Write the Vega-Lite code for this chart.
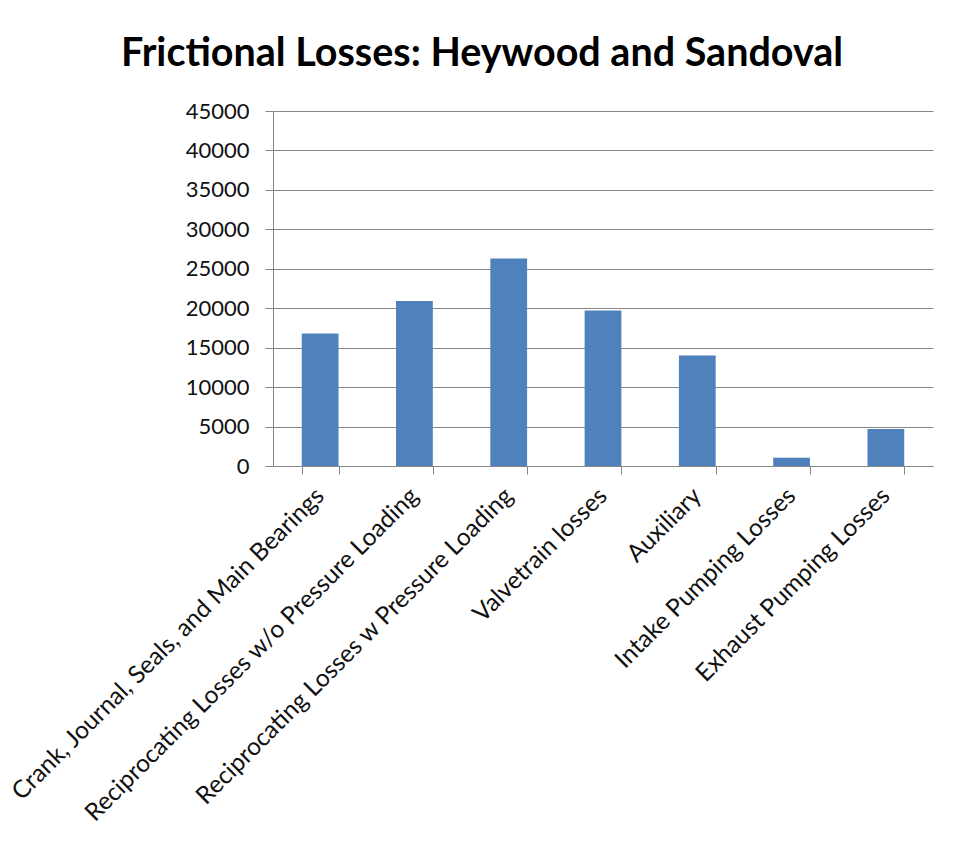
{
  "$schema": "https://vega.github.io/schema/vega-lite/v6.json",
  "autosize": "none",
  "width": 660,
  "height": 355,
  "padding": {"left": 273, "top": 111, "right": 31, "bottom": 390},
  "background": "white",
  "title": {
    "text": "Frictional Losses: Heywood and Sandoval",
    "font": "Lato",
    "fontSize": 39.5,
    "fontWeight": "bold",
    "color": "#000000",
    "anchor": "middle",
    "frame": "group",
    "dx": -121,
    "dy": 49,
    "baseline": "alphabetic",
    "offset": 44
  },
  "data": {
    "values": [
      {"category": "Crank, Journal, Seals, and Main Bearings", "loss": 16800},
      {"category": "Reciprocating Losses w/o Pressure Loading", "loss": 20900},
      {"category": "Reciprocating Losses w Pressure Loading", "loss": 26300},
      {"category": "Valvetrain losses", "loss": 19700},
      {"category": "Auxiliary", "loss": 14000},
      {"category": "Intake Pumping Losses", "loss": 1050},
      {"category": "Exhaust Pumping Losses", "loss": 4700}
    ]
  },
  "mark": {"type": "bar", "color": "#4F81BD"},
  "encoding": {
    "x": {
      "field": "category",
      "type": "nominal",
      "sort": null,
      "title": null,
      "scale": {"paddingInner": 0.61, "paddingOuter": 0.305},
      "axis": {
        "labelAngle": -45,
        "labelAlign": "right",
        "labelBaseline": "middle",
        "labelFont": "Lato",
        "labelFontSize": 24.5,
        "labelColor": "#111111",
        "labelPadding": 18,
        "labelLimit": 0,
        "tickBand": "extent",
        "tickSize": 8,
        "tickColor": "#868686",
        "domainColor": "#868686",
        "grid": false
      }
    },
    "y": {
      "field": "loss",
      "type": "quantitative",
      "title": null,
      "scale": {"domain": [0, 45000], "nice": false},
      "axis": {
        "values": [0, 5000, 10000, 15000, 20000, 25000, 30000, 35000, 40000, 45000],
        "format": "d",
        "labelFont": "Lato",
        "labelFontSize": 22,
        "labelColor": "#111111",
        "labelPadding": 16,
        "tickSize": 8,
        "tickColor": "#868686",
        "domainColor": "#868686",
        "grid": true,
        "gridColor": "#868686",
        "gridOpacity": 1
      }
    }
  },
  "config": {
    "view": {"stroke": null}
  }
}
